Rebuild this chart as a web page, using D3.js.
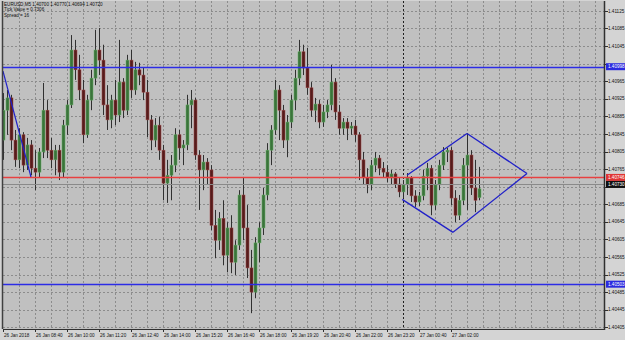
<!DOCTYPE html>
<html>
<head>
<meta charset="utf-8">
<script src="https://cdn.jsdelivr.net/npm/d3@7"></script>
<style>
body{margin:0;background:#fff;}
svg text{font-family:"Liberation Sans",Arial,sans-serif;}
</style>
</head>
<body>
<svg id="chart" width="625" height="340"></svg>
<script>
// EURUSD 10-minute bars, 26 Jan 2018 07:20 onward
var firstBar = "2018-01-26T07:20";
var barMinutes = 10;

var opens = [1.40831,1.40899,1.40927,1.40831,1.40786,1.40843,1.40774,1.40820,1.40767,1.40758,
1.40804,1.40899,1.40808,1.40786,1.40808,1.40758,1.40865,1.40911,1.41036,1.40991,
1.40945,1.40843,1.40922,1.40972,1.41036,1.41013,1.40911,1.40877,1.40922,1.40888,
1.40963,1.40899,1.41013,1.40945,1.40991,1.40979,1.40940,1.40877,1.40831,1.40865,
1.40808,1.40733,1.40751,1.40774,1.40843,1.40813,1.40820,1.40911,1.40922,1.40797,
1.40763,1.40781,1.40763,1.40637,1.40603,1.40653,1.40569,1.40631,1.40553,1.40592,
1.40706,1.40631,1.40540,1.40485,1.40597,1.40631,1.40706,1.40808,1.40854,1.40945,
1.40899,1.40831,1.40872,1.40922,1.40972,1.41032,1.40995,1.40950,1.40899,1.40913,
1.40872,1.40895,1.40911,1.40963,1.40895,1.40858,1.40872,1.40858,1.40863,1.40843,
1.40786,1.40745,1.40729,1.40774,1.40790,1.40767,1.40758,1.40745,1.40754,1.40731,
1.40713,1.40729,1.40745,1.40704,1.40690,1.40704,1.40749,1.40767,1.40683,1.40729,
1.40774,1.40804,1.40808,1.40699,1.40660,1.40694,1.40774,1.40797,1.40722,1.40700];

var highs = [1.40938,1.40945,1.40934,1.40854,1.40858,1.40849,1.40836,1.40831,1.40808,1.40813,
1.40961,1.40922,1.40836,1.40820,1.40820,1.40877,1.40922,1.41070,1.41059,1.41025,
1.40968,1.40934,1.40991,1.41082,1.41086,1.41048,1.40956,1.40934,1.40968,1.41059,
1.40972,1.41025,1.41036,1.41009,1.41007,1.40995,1.40968,1.40888,1.40881,1.40884,
1.40820,1.40786,1.40797,1.40858,1.40854,1.40831,1.40934,1.40945,1.40927,1.40808,
1.40797,1.40790,1.40774,1.40672,1.40667,1.40694,1.40644,1.40660,1.40603,1.40717,
1.40747,1.40683,1.40581,1.40610,1.40644,1.40722,1.40824,1.40865,1.40968,1.40956,
1.40911,1.40888,1.40934,1.40991,1.41059,1.41048,1.41041,1.40963,1.40927,1.40922,
1.40911,1.40922,1.41002,1.40972,1.40911,1.40881,1.40881,1.40872,1.40877,1.40849,
1.40804,1.40767,1.40786,1.40804,1.40797,1.40781,1.40774,1.40763,1.40758,1.40745,
1.40740,1.40756,1.40749,1.40717,1.40713,1.40763,1.40779,1.40774,1.40740,1.40786,
1.40815,1.40813,1.40815,1.40717,1.40706,1.40790,1.40847,1.40808,1.40786,1.40770];

var lows = [1.40786,1.40843,1.40808,1.40770,1.40767,1.40758,1.40763,1.40751,1.40717,1.40745,
1.40790,1.40790,1.40767,1.40751,1.40740,1.40745,1.40843,1.40904,1.40968,1.40922,
1.40824,1.40836,1.40899,1.40956,1.40979,1.40888,1.40854,1.40858,1.40865,1.40872,
1.40881,1.40888,1.40927,1.40934,1.40956,1.40922,1.40838,1.40808,1.40815,1.40786,
1.40694,1.40688,1.40694,1.40758,1.40786,1.40774,1.40808,1.40858,1.40786,1.40672,
1.40717,1.40729,1.40626,1.40562,1.40581,1.40546,1.40530,1.40528,1.40524,1.40581,
1.40603,1.40517,1.40437,1.40471,1.40553,1.40615,1.40694,1.40774,1.40843,1.40831,
1.40813,1.40792,1.40858,1.40899,1.40956,1.40979,1.40934,1.40884,1.40872,1.40858,
1.40861,1.40881,1.40899,1.40877,1.40843,1.40843,1.40831,1.40843,1.40827,1.40740,
1.40729,1.40710,1.40717,1.40758,1.40751,1.40745,1.40735,1.40729,1.40722,1.40701,
1.40699,1.40706,1.40690,1.40679,1.40681,1.40694,1.40717,1.40660,1.40672,1.40717,
1.40763,1.40781,1.40683,1.40644,1.40649,1.40683,1.40672,1.40706,1.40667,1.40694];

var closes = [1.40899,1.40927,1.40831,1.40786,1.40843,1.40774,1.40820,1.40767,1.40758,1.40804,
1.40899,1.40808,1.40786,1.40808,1.40758,1.40865,1.40911,1.41036,1.40991,1.40945,
1.40843,1.40922,1.40972,1.41036,1.41013,1.40911,1.40877,1.40922,1.40888,1.40963,
1.40899,1.41013,1.40945,1.40991,1.40979,1.40940,1.40877,1.40831,1.40865,1.40808,
1.40733,1.40751,1.40774,1.40843,1.40813,1.40820,1.40911,1.40922,1.40797,1.40763,
1.40781,1.40763,1.40637,1.40603,1.40653,1.40569,1.40631,1.40553,1.40592,1.40706,
1.40631,1.40540,1.40485,1.40597,1.40631,1.40706,1.40808,1.40854,1.40945,1.40899,
1.40831,1.40872,1.40922,1.40972,1.41032,1.40995,1.40950,1.40899,1.40913,1.40872,
1.40895,1.40911,1.40963,1.40895,1.40858,1.40872,1.40858,1.40863,1.40843,1.40786,
1.40745,1.40729,1.40774,1.40790,1.40767,1.40758,1.40745,1.40754,1.40731,1.40713,
1.40729,1.40745,1.40704,1.40690,1.40704,1.40749,1.40767,1.40683,1.40729,1.40774,
1.40804,1.40808,1.40699,1.40660,1.40694,1.40774,1.40797,1.40722,1.40694,1.40720];

var priceTicks = [1.41125,1.41085,1.41045,1.41005,1.40965,1.40925,1.40885,1.40845,1.40805,1.40765,
1.40725,1.40685,1.40645,1.40605,1.40565,1.40525,1.40485,1.40445,1.40405];
var timeTicks = ["2018-01-26T07:20","2018-01-26T08:40","2018-01-26T10:00","2018-01-26T11:20","2018-01-26T12:40",
"2018-01-26T14:00","2018-01-26T15:20","2018-01-26T16:40","2018-01-26T18:00","2018-01-26T19:20",
"2018-01-26T20:40","2018-01-26T22:00","2018-01-26T23:20","2018-01-27T00:40","2018-01-27T02:00"];
var timeLabels = ["26 Jan 2018","26 Jan 08:40","26 Jan 10:00","26 Jan 11:20","26 Jan 12:40",
"26 Jan 14:00","26 Jan 15:20","26 Jan 16:40","26 Jan 18:00","26 Jan 19:20",
"26 Jan 20:40","26 Jan 22:00","26 Jan 23:20","27 Jan 00:40","27 Jan 02:00"];

var blueLevels = [1.40998, 1.40503];
var askPrice = 1.40746, bidPrice = 1.40730;
var daySeparator = "2018-01-27T00:00";
var trendLine = [["2018-01-26T07:20",1.40988],["2018-01-26T08:30",1.40747]];
var diamond = [
  [["2018-01-27T00:10",1.40751],["2018-01-27T02:40",1.40846]],
  [["2018-01-27T02:40",1.40846],["2018-01-27T05:10",1.40755]],
  [["2018-01-27T05:10",1.40755],["2018-01-27T02:05",1.40621]],
  [["2018-01-27T02:05",1.40621],["2018-01-26T23:58",1.40696]]
];
var header = ["EURUSD,M5  1.40700 1.40770 1.40694 1.40720","Tick Value = 0.7306","Spread = 16"];

var W = 625, H = 340;
var padL = 3, padR = 604, padT = 1, padB = 329;
var parseT = d3.utcParse("%Y-%m-%dT%H:%M");
var t0 = parseT(firstBar);

var x = d3.scaleUtc()
  .domain([t0, new Date(+t0 + (padR-padL)/4*barMinutes*60000)])
  .range([padL, padR]);
var y = d3.scaleLinear().domain([1.40401, 1.41143]).range([padB, 3]);
function py(p){ return Math.round(y(p))+0.5; }
function px(t){ return Math.round(x(t))+0.5; }

var svg = d3.select("#chart");
svg.append("rect").attr("width",W).attr("height",H).attr("fill","#d4d4d4");
svg.append("rect").attr("x",padL).attr("y",padT).attr("width",padR-padL).attr("height",padB-padT).attr("fill","#c0c0c0");

svg.append("defs").append("clipPath").attr("id","plot")
  .append("rect").attr("x",padL).attr("y",padT).attr("width",padR-padL).attr("height",padB-padT);

var grid = svg.append("g").attr("clip-path","url(#plot)");
// vertical grid every 40 minutes from 08:00
var g0 = parseT("2018-01-26T08:00");
var vgrid = d3.range(0,40).map(function(k){ return new Date(+g0 + k*40*60000); })
  .filter(function(d){ return x(d) < padR; });
grid.selectAll(".vg").data(vgrid).enter().append("line")
  .attr("x1",px).attr("x2",px)
  .attr("y1",padT).attr("y2",padB)
  .attr("stroke","#8c8c8c").attr("stroke-dasharray","2,2");
grid.selectAll(".hg").data(priceTicks).enter().append("line")
  .attr("x1",padL).attr("x2",padR)
  .attr("y1",py).attr("y2",py)
  .attr("stroke","#8c8c8c").attr("stroke-dasharray","2,2");

// day separator
var sepX = px(parseT(daySeparator));
grid.append("line").attr("x1",sepX).attr("x2",sepX).attr("y1",padT).attr("y2",padB)
  .attr("stroke","#202020").attr("stroke-dasharray","2,2");

// candles
var bars = opens.map(function(o,i){
  return {t:new Date(+t0 + i*barMinutes*60000), o:o, h:highs[i], l:lows[i], c:closes[i]};
});
var cand = grid.append("g").selectAll(".bar").data(bars).enter().append("g");
cand.append("line")
  .attr("x1",function(d){return px(d.t);}).attr("x2",function(d){return px(d.t);})
  .attr("y1",function(d){return y(d.h);}).attr("y2",function(d){return y(d.l);})
  .attr("stroke","#303030").attr("stroke-width",1);
cand.append("rect")
  .attr("x",function(d){return Math.round(x(d.t))-1;})
  .attr("width",3)
  .attr("y",function(d){return y(Math.max(d.o,d.c));})
  .attr("height",function(d){return Math.max(1, Math.abs(y(d.o)-y(d.c)));})
  .attr("fill",function(d){return d.c>=d.o ? "#3b733b" : "#561c1c";})
  .attr("stroke",function(d){return d.c>=d.o ? "#66b066" : "#a04848";})
  .attr("stroke-width",0.5);

// horizontal levels (on top of bars)
grid.selectAll(".lvl").data(blueLevels).enter().append("line")
  .attr("x1",padL).attr("x2",padR)
  .attr("y1",py).attr("y2",py)
  .attr("stroke","#2c2ce6").attr("stroke-width",1.6);
grid.append("line").attr("x1",padL).attr("x2",padR)
  .attr("y1",py(bidPrice)).attr("y2",py(bidPrice))
  .attr("stroke","#8a8a8a");
grid.append("line").attr("x1",padL).attr("x2",padR)
  .attr("y1",py(askPrice)).attr("y2",py(askPrice))
  .attr("stroke","#e84040").attr("stroke-width",1.6);

// drawn objects
var tl = d3.line().x(function(d){return x(parseT(d[0]));}).y(function(d){return y(d[1]);});
grid.append("path").attr("d",tl(trendLine)).attr("fill","none").attr("stroke","#2020c8").attr("stroke-width",1.2);
grid.selectAll(".dm").data(diamond).enter().append("path")
  .attr("d",function(d){return tl(d);}).attr("fill","none").attr("stroke","#2020c8").attr("stroke-width",1.3);

// frame
svg.append("line").attr("x1",padL-0.5).attr("x2",padL-0.5).attr("y1",padT).attr("y2",padB).attr("stroke","#404040").attr("stroke-width",1.5);
svg.append("line").attr("x1",padR+0.5).attr("x2",padR+0.5).attr("y1",padT).attr("y2",padB+1).attr("stroke","#303030").attr("stroke-width",1.5);
svg.append("line").attr("x1",padL).attr("x2",padR+1).attr("y1",padB+0.5).attr("y2",padB+0.5).attr("stroke","#303030").attr("stroke-width",1.2);

// price axis
var tagPrices = [blueLevels[0], blueLevels[1], askPrice, bidPrice];
var pa = svg.append("g");
pa.selectAll(".pt").data(priceTicks).enter().append("line")
  .attr("x1",padR+1).attr("x2",padR+4)
  .attr("y1",py).attr("y2",py)
  .attr("stroke","#303030");
pa.selectAll(".pl").data(priceTicks.filter(function(p){
    return tagPrices.every(function(q){ return Math.abs(y(p)-y(q)) > 6; });
  })).enter().append("text")
  .attr("x",padR+4).attr("y",function(d){return y(d)+1.6;})
  .attr("font-size",4.6).attr("fill","#111")
  .text(function(d){return d.toFixed(5);});

function tag(price, bg){
  var yy = y(price);
  pa.append("rect").attr("x",padR+2).attr("y",yy-3.5).attr("width",W-padR-2).attr("height",7).attr("fill",bg);
  pa.append("text").attr("x",padR+4).attr("y",yy+1.6).attr("font-size",4.6).attr("fill","#fff").text(price.toFixed(5));
}
tag(blueLevels[0],"#2a2ae0");
tag(blueLevels[1],"#2a2ae0");
tag(askPrice,"#e03434");
tag(bidPrice,"#101010");

// time axis
var ta = svg.append("g");
var tt = timeTicks.map(parseT);
ta.selectAll(".tk").data(tt).enter().append("line")
  .attr("x1",px).attr("x2",px)
  .attr("y1",padB).attr("y2",padB+3).attr("stroke","#303030");
ta.selectAll(".tl").data(tt).enter().append("text")
  .attr("x",function(d){return x(d)+1;}).attr("y",padB+7.5)
  .attr("font-size",4.6).attr("fill","#111")
  .text(function(d,i){return timeLabels[i];});

// header
svg.selectAll(".hd").data(header).enter().append("text")
  .attr("x",4).attr("y",function(d,i){return 6+i*5.3;})
  .attr("font-size",4.6).attr("fill","#111")
  .text(function(d){return d;});
</script>
</body>
</html>
